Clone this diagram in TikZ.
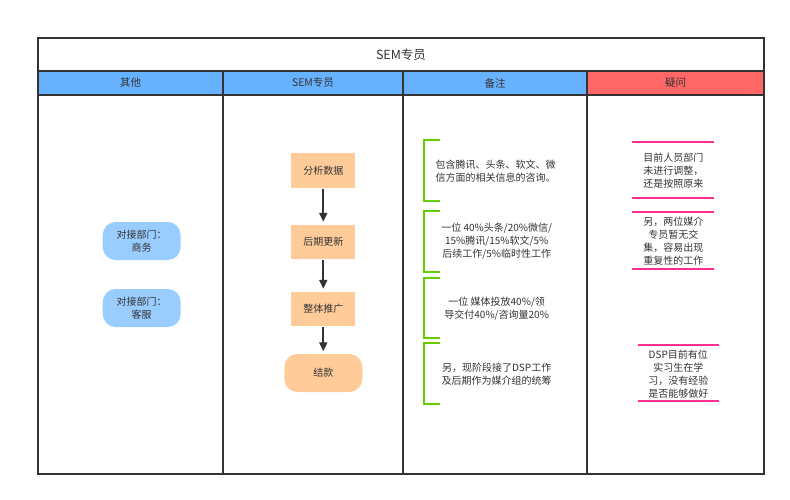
\documentclass[tikz,border=0pt]{standalone}
\usepackage{fontspec}
\setmainfont{Noto Sans CJK SC}
\usetikzlibrary{arrows.meta}
\definecolor{txt}{HTML}{333333}
\definecolor{hdrblue}{HTML}{66B2FF}
\definecolor{hdrred}{HTML}{FF6666}
\definecolor{lblue}{HTML}{99CCFF}
\definecolor{lorange}{HTML}{FFCC99}
\definecolor{brgreen}{HTML}{66CC00}
\definecolor{qpink}{HTML}{FF2E93}
\definecolor{framec}{HTML}{333333}
\tikzset{
  base/.style={text=txt, inner sep=0pt, font=\fontsize{10}{13}\selectfont},
  hdr/.style={base, font=\fontsize{10.5}{13}\selectfont},
  proc/.style={base, fill=lorange, minimum width=64pt, minimum height=34pt},
  term/.style={base, fill=lorange, rounded corners=13pt, minimum width=78pt, minimum height=38pt},
  dept/.style={base, fill=lblue, rounded corners=13pt, minimum width=78pt, minimum height=38pt, align=center},
  note/.style={base, align=center},
  grid/.style={draw=framec, line width=1.2pt},
  bracket/.style={draw=brgreen, line width=1.7pt},
  qline/.style={draw=qpink, line width=1.9pt},
  flow/.style={draw=framec, line width=1.8pt, -{Triangle[length=9pt,width=8pt]}}
}
\begin{document}
\begin{tikzpicture}[x=1pt,y=-1pt]
\useasboundingbox (0,0) rectangle (790,500);
% header fills
\fill[hdrblue] (38,71) rectangle (587,95);
\fill[hdrred] (587,71) rectangle (764,95);
% grid
\draw[grid] (38,71) -- (764,71);
\draw[grid] (38,95) -- (764,95);
\draw[grid] (223,71) -- (223,474);
\draw[grid] (403,71) -- (403,474);
\draw[grid] (587,71) -- (587,474);
\draw[draw=framec, line width=1.8pt] (38,38) rectangle (764,474);
% titles
\node[base, font=\fontsize{12.5}{15}\selectfont] (title) at (401,55) {SEM专员};
\node[hdr] (h1) at (130.5,83) {其他};
\node[hdr] (h2) at (313,83) {SEM专员};
\node[hdr] (h3) at (495,83) {备注};
\node[hdr] (h4) at (675.5,83) {疑问};
% other column
\node[dept] (d1) at (141.7,241) {对接部门：\\商务};
\node[dept] (d2) at (141.7,308) {对接部门：\\客服};
% SEM flow
\node[proc] (p1) at (323.3,170.5) {分析数据};
\node[proc] (p2) at (323.3,241.5) {后期更新};
\node[proc] (p3) at (323.3,308.5) {整体推广};
\node[term] (p4) at (323.3,373) {结款};
\draw[flow] ([yshift=-1.5pt]p1.south) -- ([yshift=2.5pt]p2.north);
\draw[flow] ([yshift=-1.5pt]p2.south) -- ([yshift=2.5pt]p3.north);
\draw[flow] ([yshift=-1.5pt]p3.south) -- ([yshift=2.5pt]p4.north);
% notes column
\draw[bracket] (440,140) -- (424,140) -- (424,200.7) -- (440,200.7);
\draw[bracket] (440,210.7) -- (424,210.7) -- (424,271.7) -- (440,271.7);
\draw[bracket] (440,278.3) -- (424,278.3) -- (424,338.3) -- (440,338.3);
\draw[bracket] (440,343.3) -- (424,343.3) -- (424,404) -- (440,404);
\node[note, align=left] (n1) at (495.5,171) {包含腾讯、头条、软文、微\\信方面的相关信息的咨询。};
\node[note] (n2) at (496.7,241.6) {一位 40\%头条/20\%微信/\\15\%腾讯/15\%软文/5\%\\后续工作/5\%临时性工作};
\node[note] (n3) at (496.7,308.7) {一位 媒体投放40\%/领\\导交付40\%/咨询量20\%};
\node[note] (n4) at (496.7,374) {另，现阶段接了DSP工作\\及后期作为媒介组的统筹};
% questions column
\draw[qline] (631.7,142) -- (714,142);
\draw[qline] (631.7,198.3) -- (714,198.3);
\draw[qline] (631.7,212.3) -- (714,212.3);
\draw[qline] (631.7,269) -- (714,269);
\draw[qline] (637.7,344.7) -- (719.3,344.7);
\draw[qline] (637.7,401) -- (719.3,401);
\node[note] (q1) at (673.3,171) {目前人员部门\\未进行调整，\\还是按照原来};
\node[note] (q2) at (673.3,241.5) {另，两位媒介\\专员暂无交\\集，容易出现\\重复性的工作};
\node[note] (q3) at (678.3,374.3) {DSP目前有位\\实习生在学\\习，没有经验\\是否能够做好};
\end{tikzpicture}
\end{document}
